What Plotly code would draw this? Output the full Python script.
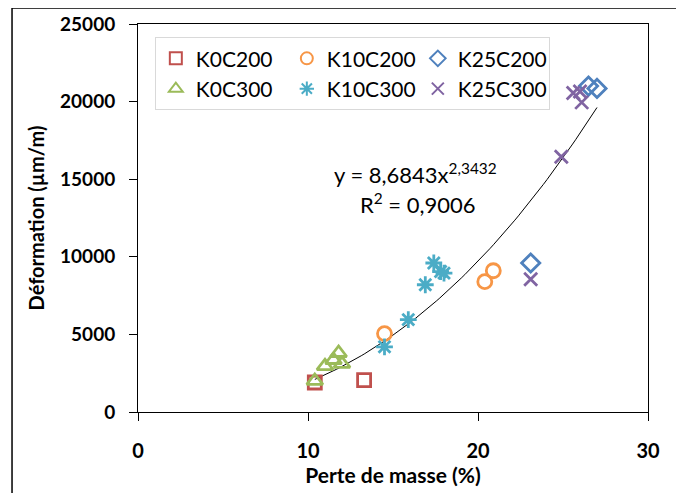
import plotly.graph_objects as go

# Data
k0c200_x = [10.4, 13.3]
k0c200_y = [1900, 2050]
k10c200_x = [14.5, 20.4, 20.9]
k10c200_y = [5050, 8400, 9100]
k25c200_x = [23.1, 26.5, 27.0]
k25c200_y = [9600, 21000, 20850]
k0c300_x = [10.4, 11.0, 11.5, 11.8, 12.0]
k0c300_y = [2000, 2950, 3350, 3800, 3100]
k10c300_x = [14.5, 15.9, 16.9, 17.4, 17.8, 18.0]
k10c300_y = [4200, 5950, 8200, 9600, 9050, 8950]
k25c300_x = [23.1, 24.9, 25.6, 26.0, 26.1]
k25c300_y = [8550, 16450, 20550, 20650, 19950]

fit_a = 8.6843
fit_b = 2.3432
fit_xmin, fit_xmax = 10.4, 27.0

x_ticks = [0, 10, 20, 30]
y_ticks = [0, 5000, 10000, 15000, 20000, 25000]

FONT = "Lato, Open Sans, Liberation Sans"

series = [
    ("K0C200", k0c200_x, k0c200_y, "square-open", "#C0504D", 13),
    ("K10C200", k10c200_x, k10c200_y, "circle-open", "#F79646", 14),
    ("K25C200", k25c200_x, k25c200_y, "diamond-open", "#4F81BD", 14),
    ("K0C300", k0c300_x, k0c300_y, "triangle-up-open", "#9BBB59", 14),
    ("K10C300", k10c300_x, k10c300_y, "asterisk-open", "#4BACC6", 14),
    ("K25C300", k25c300_x, k25c300_y, "x-thin-open", "#8064A2", 13),
]

fig = go.Figure()

# trend line (power fit shown on the chart)
n = 80
fx = [fit_xmin + (fit_xmax - fit_xmin) * i / (n - 1) for i in range(n)]
fy = [fit_a * v ** fit_b for v in fx]
fig.add_trace(go.Scatter(x=fx, y=fy, mode="lines", line=dict(color="black", width=1),
                         showlegend=False, hoverinfo="skip"))

for name, xs, ys, sym, col, sz in series:
    fig.add_trace(go.Scatter(x=xs, y=ys, mode="markers", name=name,
                             marker=dict(symbol=sym, size=sz, color=col,
                                         line=dict(color=col, width=2.8))))

fig.update_layout(
    width=676, height=485,
    margin=dict(l=130, r=36, t=16, b=81),
    paper_bgcolor="white", plot_bgcolor="white",
    font=dict(family=FONT, size=19, color="black"),
    legend=dict(orientation="h", x=0.033, y=0.966, xanchor="left", yanchor="top",
                entrywidth=86, bordercolor="#D9D9D9", borderwidth=1,
                bgcolor="white", font=dict(size=21, family=FONT),
                itemsizing="constant", tracegroupgap=0, itemwidth=30),
    xaxis=dict(range=[0, 30], tickvals=x_ticks,
               ticktext=["<b>%d</b>" % v for v in x_ticks],
               showgrid=False, zeroline=False, automargin=False,
               showline=True, linecolor="black", linewidth=1, mirror=True,
               ticks="outside", ticklen=8, tickcolor="black",
               tickfont=dict(size=20, family=FONT), ticklabelstandoff=13,
               title=dict(text="<b>Perte de masse (%)</b>", font=dict(size=21, family=FONT),
                          standoff=4)),
    yaxis=dict(range=[0, 25000], tickvals=y_ticks,
               ticktext=["<b>%d</b>" % v for v in y_ticks],
               showgrid=False, zeroline=False, automargin=False,
               showline=True, linecolor="black", linewidth=1, mirror=True,
               ticks="outside", ticklen=8, tickcolor="black",
               tickfont=dict(size=19, family=FONT), ticklabelstandoff=10,
               title=dict(text="<b>Déformation (µm/m)</b>", font=dict(size=20, family=FONT),
                          standoff=10)),
)

fig.add_annotation(x=(415 - 138) / 510, y=(412 - 174) / 388, xref="paper", yref="paper",
                   text="y = 8,6843x<sup>2,3432</sup>", showarrow=False,
                   font=dict(size=22, family=FONT))
fig.add_annotation(x=(418 - 138) / 510, y=(412 - 203) / 388, xref="paper", yref="paper",
                   text="R<sup>2</sup> = 0,9006", showarrow=False,
                   font=dict(size=22, family=FONT))

# outer chart border
fig.add_shape(type="rect", xref="paper", yref="paper", x0=-0.247, x1=1.2, y0=-0.3, y1=1.041,
              line=dict(color="black", width=1.5), layer="below")

fig.write_html("out.html")
